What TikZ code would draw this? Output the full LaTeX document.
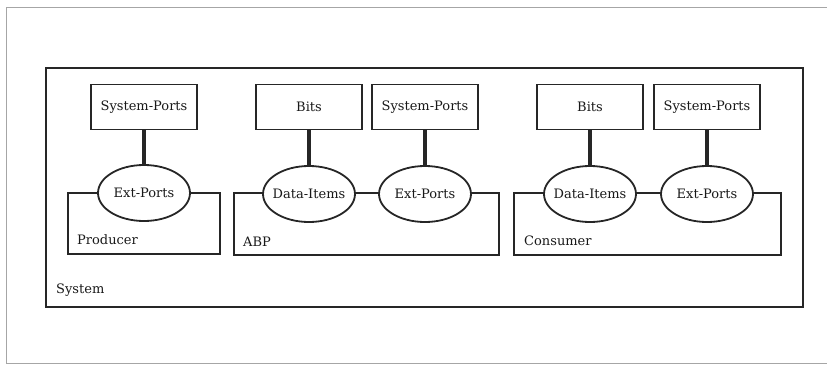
\documentclass[tikz,border=0pt]{standalone}
\usepackage{fontspec}
\setmainfont{DejaVu Serif}
\usetikzlibrary{shapes}

\begin{document}
\begin{tikzpicture}[x=1pt,y=-1pt,
    every node/.style={font=\fontsize{13}{15}\selectfont, text=black!90},
    portbox/.style={draw=black!85, line width=1.6pt, minimum width=106pt, minimum height=45pt, inner sep=0pt},
    portell/.style={ellipse, draw=black!85, fill=white, line width=1.8pt, minimum width=92pt, minimum height=56pt, inner xsep=-14pt, inner ysep=0pt},
    link/.style={draw=black!85, line width=3.4pt},
    group/.style={draw=black!85, line width=1.5pt},
    grouplabel/.style={anchor=west, inner sep=0pt}]
    \useasboundingbox (0,0) rectangle (827,367);
    % page frame
    \draw[black!35, line width=0.7pt] (840,7) -- (6,7) -- (6,363) -- (840,363);
    % system
    \draw[group, line width=1.8pt] (46,68) rectangle (803,307);
    \node[grouplabel] (syslabel) at (56,290) {System};
    % producer
    \draw[group] (68,193) rectangle (220,254);
    \node[grouplabel] (prodlabel) at (77,240) {Producer};
    \node[portbox] (prodsp) at (144,107) {System-Ports};
    \node[portell] (prodep) at (144,193) {Ext-Ports};
    \draw[link] (prodsp) -- (prodep);
    % abp
    \draw[group] (234,193) rectangle (499,255);
    \node[grouplabel] (abplabel) at (243,242) {ABP};
    \node[portbox] (abpbits) at (309,107) {Bits};
    \node[portbox] (abpsp) at (425,107) {System-Ports};
    \node[portell] (abpdi) at (309,194) {Data-Items};
    \node[portell] (abpep) at (425,194) {Ext-Ports};
    \draw[link] (abpbits) -- (abpdi);
    \draw[link] (abpsp) -- (abpep);
    % consumer
    \draw[group] (514,193) rectangle (781,255);
    \node[grouplabel] (conlabel) at (524,241) {Consumer};
    \node[portbox] (conbits) at (590,107) {Bits};
    \node[portbox] (consp) at (707,107) {System-Ports};
    \node[portell] (condi) at (590,194) {Data-Items};
    \node[portell] (conep) at (707,194) {Ext-Ports};
    \draw[link] (conbits) -- (condi);
    \draw[link] (consp) -- (conep);
\end{tikzpicture}
\end{document}
